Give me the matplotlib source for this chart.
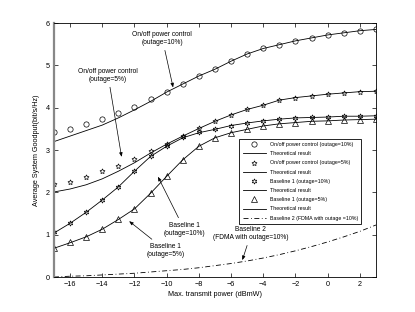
import numpy as np
import matplotlib.pyplot as plt

plt.rcParams['font.family'] = ['Liberation Sans', 'DejaVu Sans']

power = np.arange(-17, 4)

# simulation points
onoff_10 = [3.43, 3.50, 3.61, 3.73, 3.88, 4.02, 4.20, 4.38, 4.55, 4.75, 4.91,
            5.10, 5.27, 5.40, 5.49, 5.58, 5.65, 5.72, 5.77, 5.82, 5.85]
onoff_5 = [2.19, 2.25, 2.37, 2.50, 2.63, 2.78, 2.98, 3.15, 3.33, 3.51, 3.68,
           3.83, 3.96, 4.06, 4.18, 4.24, 4.28, 4.32, 4.35, 4.38, 4.39]
base1_10 = [1.07, 1.28, 1.53, 1.82, 2.13, 2.51, 2.86, 3.10, 3.30, 3.42, 3.49,
            3.58, 3.64, 3.69, 3.73, 3.76, 3.77, 3.78, 3.80, 3.80, 3.81]
base1_5 = [0.69, 0.82, 0.95, 1.13, 1.36, 1.60, 1.98, 2.38, 2.77, 3.09, 3.29,
           3.41, 3.49, 3.57, 3.62, 3.65, 3.68, 3.69, 3.71, 3.72, 3.73]

# theoretical curves
th_onoff_10 = [3.20, 3.33, 3.46, 3.59, 3.76, 3.95, 4.15, 4.37, 4.56, 4.75, 4.91,
               5.10, 5.27, 5.40, 5.49, 5.58, 5.65, 5.72, 5.77, 5.82, 5.85]
th_onoff_5 = [2.01, 2.08, 2.18, 2.32, 2.50, 2.70, 2.93, 3.14, 3.33, 3.51, 3.68,
              3.83, 3.96, 4.06, 4.18, 4.24, 4.28, 4.32, 4.35, 4.38, 4.39]
th_base1_10 = [1.04, 1.27, 1.53, 1.82, 2.13, 2.50, 2.85, 3.09, 3.29, 3.41, 3.49,
               3.58, 3.64, 3.69, 3.73, 3.76, 3.77, 3.78, 3.80, 3.80, 3.81]
th_base1_5 = [0.68, 0.81, 0.95, 1.13, 1.36, 1.61, 1.98, 2.38, 2.77, 3.09, 3.29,
              3.41, 3.49, 3.57, 3.62, 3.65, 3.68, 3.69, 3.71, 3.72, 3.73]
base2_10 = [0.00, 0.02, 0.03, 0.05, 0.07, 0.09, 0.12, 0.15, 0.18, 0.22, 0.27,
            0.32, 0.38, 0.45, 0.53, 0.62, 0.72, 0.83, 0.95, 1.08, 1.23]

fig = plt.figure(figsize=(4.15, 3.12), dpi=100)
ax = fig.add_axes([0.130, 0.112, 0.776, 0.814])

lw = 0.6
ms = 3.8
mk = dict(color='none', markerfacecolor='none', markeredgecolor='black',
          markeredgewidth=0.5, linestyle='none')
ax.plot(power, onoff_10, marker='o', markersize=ms, label='On/off power control (outage=10%)', **mk)
ax.plot(power, th_onoff_10, color='black', lw=lw, label='Theoretical result')
ax.plot(power, onoff_5, marker=(5, 1, 0), markersize=ms, label='On/off power control (outage=5%)', **mk)
ax.plot(power, th_onoff_5, color='black', lw=lw, label='Theoretical result')
ax.plot(power, base1_10, marker=(6, 1, 0), markersize=ms, label='Baseline 1 (outage=10%)', **mk)
ax.plot(power, th_base1_10, color='black', lw=lw, label='Theoretical result')
ax.plot(power, base1_5, marker='^', markersize=ms, label='Baseline 1 (outage=5%)', **mk)
ax.plot(power, th_base1_5, color='black', lw=lw, label='Theoretical result')
ax.plot(power, base2_10, color='black', lw=lw, linestyle=(0, (6, 3, 1, 3)),
        label='Baseline 2 (FDMA with outage =10%)')

ax.set_xlim(-17, 3)
ax.set_ylim(0, 6)
ax.set_xticks(np.arange(-16, 3, 2))
ax.set_yticks(np.arange(0, 7, 1))
ax.set_xticklabels([f'\u2212{abs(v)}' if v < 0 else str(v) for v in range(-16, 3, 2)])
ax.tick_params(direction='in', top=True, right=True, labelsize=5.2, length=3, width=0.5, pad=3)
for s in ax.spines.values():
    s.set_linewidth(0.6)
ax.spines['left'].set_linewidth(1.6)
ax.spines['left'].set_color('#888888')

ax.set_xlabel('Max. transmit power (dBmW)', fontsize=5.2, labelpad=2)
ax.set_ylabel('Average System Goodput(bit/s/Hz)', fontsize=5.2, labelpad=4)

leg = ax.legend(loc='upper right', bbox_to_anchor=(0.963, 0.555), fontsize=3.8,
                handlelength=4.4, labelspacing=0.8, borderpad=0.6,
                fancybox=False, framealpha=1, edgecolor='black')
leg.get_frame().set_linewidth(0.6)

arrow = dict(arrowstyle='-|>,head_length=0.5,head_width=0.2', color='black', lw=0.5,
             shrinkA=1, shrinkB=0)
fs = 4.8
ax.annotate('On/off power control\n(outage=10%)', xy=(-9.6, 4.48), xytext=(-10.27, 5.63),
            ha='center', va='center', fontsize=fs, arrowprops=arrow)
ax.annotate('On/off power control\n(outage=5%)', xy=(-12.8, 2.84), xytext=(-13.64, 4.76),
            ha='center', va='center', fontsize=fs, arrowprops=arrow)
ax.annotate('Baseline 1\n(outage=10%)', xy=(-10.54, 2.37), xytext=(-8.91, 1.13),
            ha='center', va='center', fontsize=fs, arrowprops=arrow)
ax.annotate('Baseline 1\n(outage=5%)', xy=(-12.33, 1.32), xytext=(-10.05, 0.63),
            ha='center', va='center', fontsize=fs, arrowprops=arrow)
ax.annotate('Baseline 2\n(FDMA with outage=10%)', xy=(-5.3, 0.40), xytext=(-4.77, 1.02),
            ha='center', va='center', fontsize=fs, arrowprops=arrow)

fig.savefig('out.png', dpi=100)
